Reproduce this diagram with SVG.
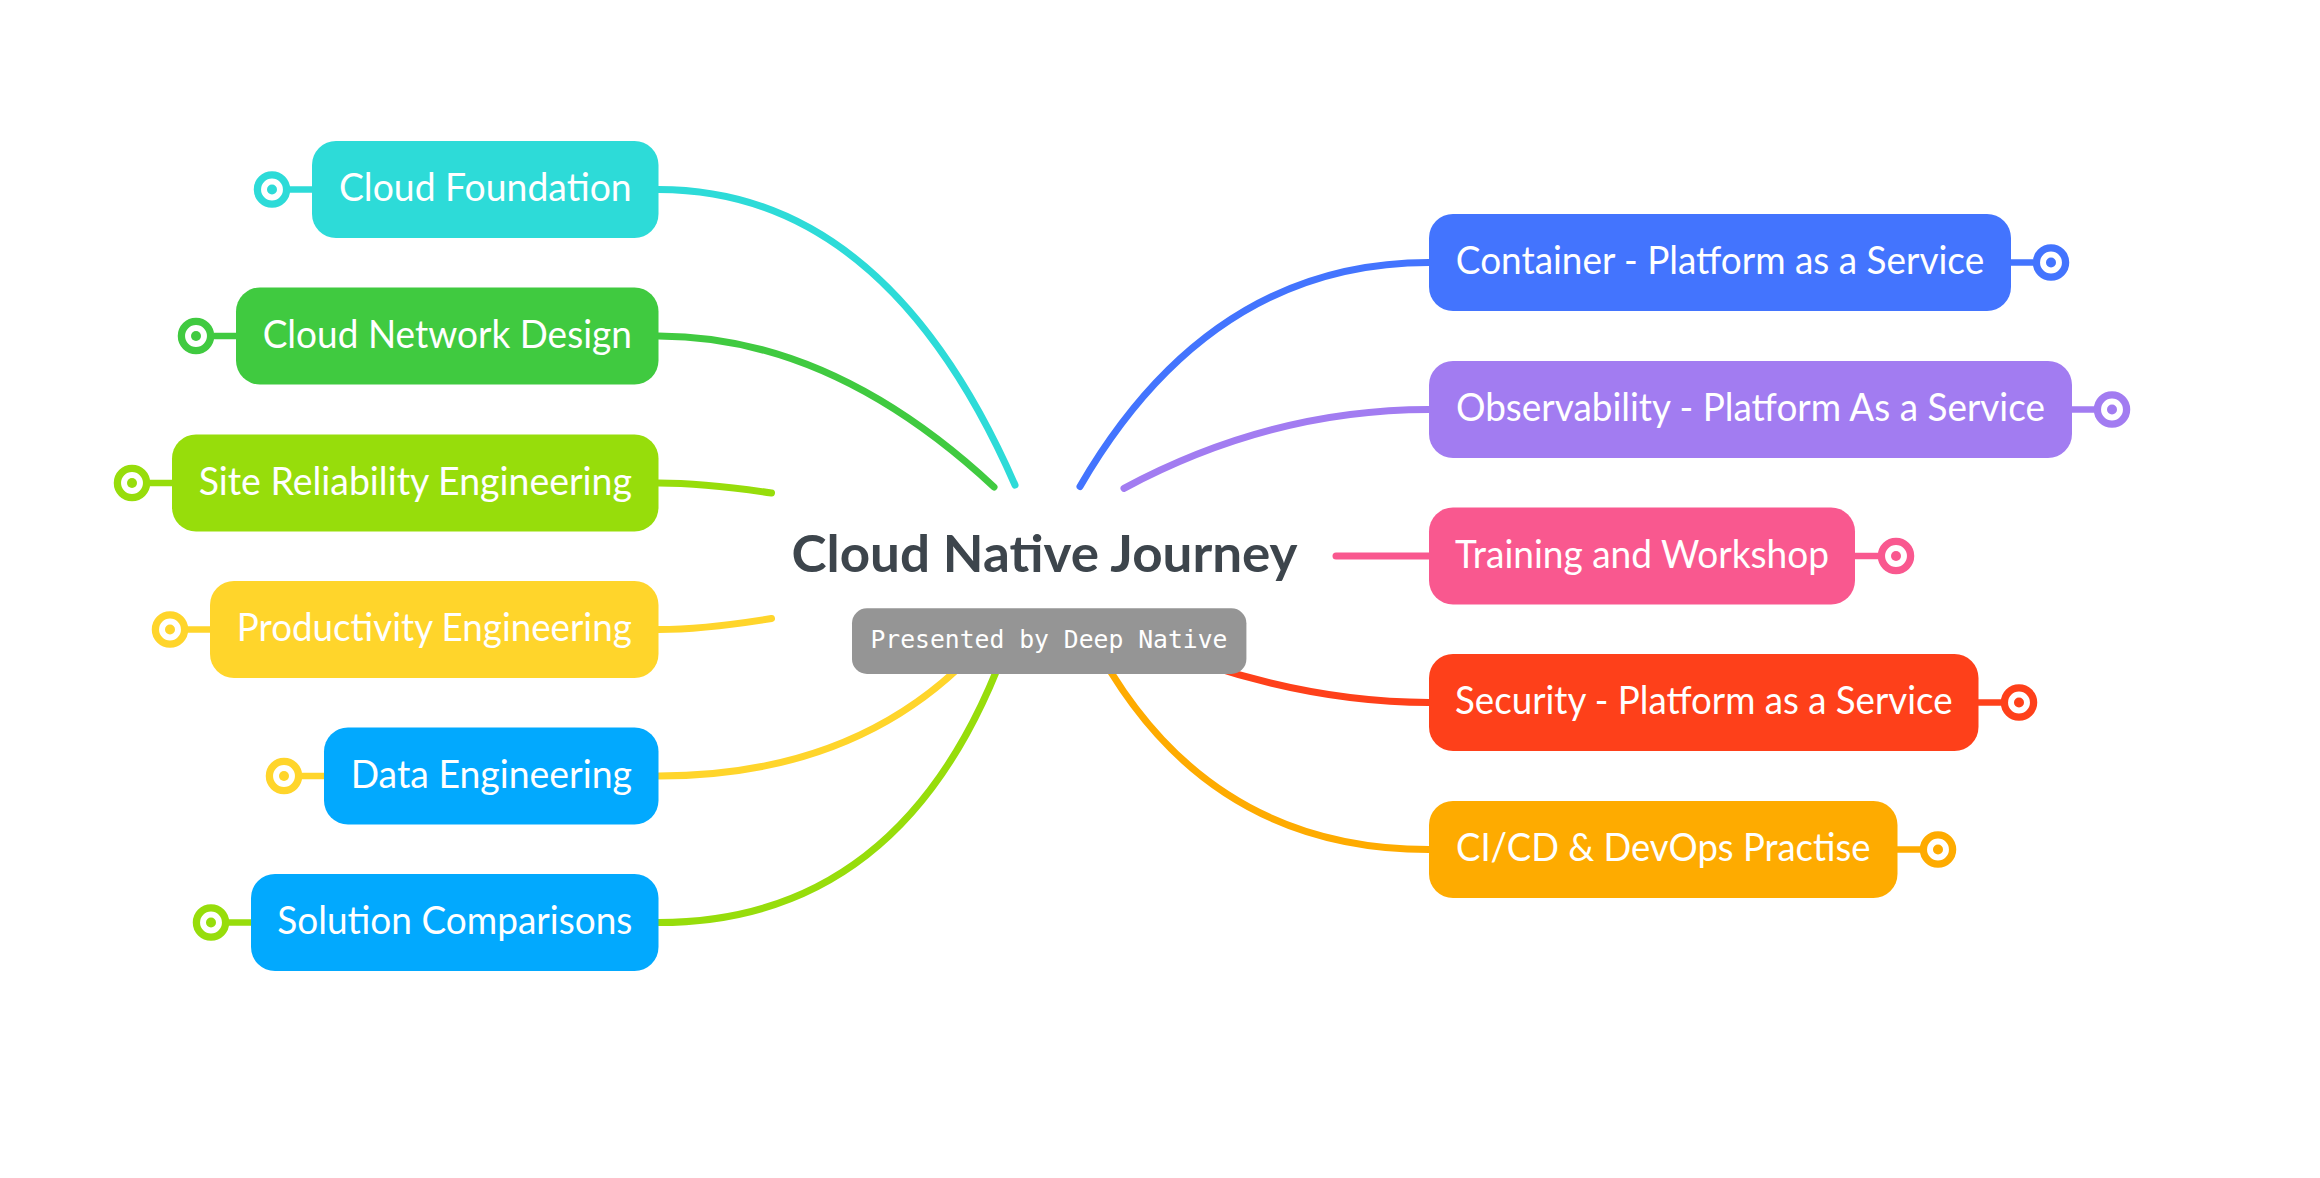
<svg xmlns="http://www.w3.org/2000/svg" width="2320" height="1178" viewBox="0 0 2320 1178">
<style>
.bg{fill:#ffffff}
.conn path{fill:none;stroke-width:7;stroke-linecap:round}
.box{rx:24;ry:24}
.lbl{font-family:Lato,"Noto Sans","Liberation Sans",sans-serif;font-size:38px;fill:#ffffff;text-anchor:middle}
.ring{fill:#ffffff;stroke-width:7.3}
.stub{stroke-width:6.5;fill:none}
.title{font-family:Lato,"Noto Sans","Liberation Sans",sans-serif;font-weight:bold;font-size:52px;fill:#3d454c;text-anchor:middle}
.sub{font-family:"DejaVu Sans Mono","Liberation Mono",monospace;font-size:25px;fill:#ffffff;text-anchor:middle}
</style>
<rect class="bg" x="0" y="0" width="2320" height="1178"/>
<g id="connectors" class="conn">
<path d="M1015,485 Q885.6,189.5 658.5,189.5" stroke="#2ddbd8"/>
<path d="M994,487 Q832,336 658.5,336" stroke="#40ca40"/>
<path d="M771.5,493 Q703,483 658.5,483" stroke="#97dd0b"/>
<path d="M771.5,618.5 Q703,629.5 658.5,629.5" stroke="#ffd52b"/>
<path d="M990,635 Q870,776 658.5,776" stroke="#ffd52b"/>
<path d="M1010,635 Q910,922.5 658.5,922.5" stroke="#97dd0b"/>
<path d="M1080,486.5 Q1210,262.5 1429,262.5" stroke="#4374fe"/>
<path d="M1124,488.3 Q1271,409.5 1429,409.5" stroke="#a27cf1"/>
<path d="M1336,556 L1429,556" stroke="#f9588f"/>
<path d="M1140,640 Q1290,702.5 1429,702.5" stroke="#fe401a"/>
<path d="M1090,635 Q1200,849.5 1429,849.5" stroke="#feab00"/>
</g>
<g id="center">
<text class="title" x="1044.5" y="571.5" textLength="506" lengthAdjust="spacingAndGlyphs">Cloud Native Journey</text>
<rect x="852" y="608.3" width="394.4" height="65.7" rx="15" ry="15" fill="#959595"/>
<text class="sub" x="1049" y="648.3" textLength="357" lengthAdjust="spacingAndGlyphs">Presented by Deep Native</text>
</g>
<g id="n-cloud-foundation">
<line class="stub" x1="290" y1="189.5" x2="313" y2="189.5" stroke="#2ddbd8"/>
<circle class="ring" cx="272" cy="189.5" r="14.6" stroke="#2ddbd8"/>
<circle cx="272" cy="189.5" r="5" fill="#2ddbd8"/>
<rect class="box" x="312" y="141" width="346.5" height="97" fill="#2ddbd8"/>
<text class="lbl" x="485.3" y="201" textLength="292.7" lengthAdjust="spacingAndGlyphs">Cloud Foundation</text>
</g>
<g id="n-cloud-network-design">
<line class="stub" x1="214" y1="336" x2="237" y2="336" stroke="#40ca40"/>
<circle class="ring" cx="196" cy="336" r="14.6" stroke="#40ca40"/>
<circle cx="196" cy="336" r="5" fill="#40ca40"/>
<rect class="box" x="236" y="287.5" width="422.5" height="97" fill="#40ca40"/>
<text class="lbl" x="447.3" y="347.5" textLength="369.3" lengthAdjust="spacingAndGlyphs">Cloud Network Design</text>
</g>
<g id="n-site-reliability">
<line class="stub" x1="150" y1="483" x2="173" y2="483" stroke="#97dd0b"/>
<circle class="ring" cx="132" cy="483" r="14.6" stroke="#97dd0b"/>
<circle cx="132" cy="483" r="5" fill="#97dd0b"/>
<rect class="box" x="172" y="434.5" width="486.5" height="97" fill="#97dd0b"/>
<text class="lbl" x="415.3" y="494.5" textLength="433.3" lengthAdjust="spacingAndGlyphs">Site Reliability Engineering</text>
</g>
<g id="n-productivity">
<line class="stub" x1="188" y1="629.5" x2="211" y2="629.5" stroke="#ffd52b"/>
<circle class="ring" cx="170" cy="629.5" r="14.6" stroke="#ffd52b"/>
<circle cx="170" cy="629.5" r="5" fill="#ffd52b"/>
<rect class="box" x="210" y="581" width="448.5" height="97" fill="#ffd52b"/>
<text class="lbl" x="434.3" y="641" textLength="395" lengthAdjust="spacingAndGlyphs">Productivity Engineering</text>
</g>
<g id="n-data-engineering">
<line class="stub" x1="302" y1="776" x2="325" y2="776" stroke="#ffd52b"/>
<circle class="ring" cx="284" cy="776" r="14.6" stroke="#ffd52b"/>
<circle cx="284" cy="776" r="5" fill="#ffd52b"/>
<rect class="box" x="324" y="727.5" width="334.5" height="97" fill="#02a9fe"/>
<text class="lbl" x="491.3" y="787.5" textLength="281.3" lengthAdjust="spacingAndGlyphs">Data Engineering</text>
</g>
<g id="n-solution-comparisons">
<line class="stub" x1="229" y1="922.5" x2="252" y2="922.5" stroke="#97dd0b"/>
<circle class="ring" cx="211" cy="922.5" r="14.6" stroke="#97dd0b"/>
<circle cx="211" cy="922.5" r="5" fill="#97dd0b"/>
<rect class="box" x="251" y="874" width="407.5" height="97" fill="#02a9fe"/>
<text class="lbl" x="454.8" y="934" textLength="355.2" lengthAdjust="spacingAndGlyphs">Solution Comparisons</text>
</g>
<g id="n-container">
<line class="stub" x1="2010" y1="262.5" x2="2033" y2="262.5" stroke="#4374fe"/>
<circle class="ring" cx="2051" cy="262.5" r="14.6" stroke="#4374fe"/>
<circle cx="2051" cy="262.5" r="5" fill="#4374fe"/>
<rect class="box" x="1429" y="214" width="582" height="97" fill="#4374fe"/>
<text class="lbl" x="1720" y="274" textLength="528.3" lengthAdjust="spacingAndGlyphs">Container - Platform as a Service</text>
</g>
<g id="n-observability">
<line class="stub" x1="2071" y1="409.5" x2="2094" y2="409.5" stroke="#a27cf1"/>
<circle class="ring" cx="2112" cy="409.5" r="14.6" stroke="#a27cf1"/>
<circle cx="2112" cy="409.5" r="5" fill="#a27cf1"/>
<rect class="box" x="1429" y="361" width="643" height="97" fill="#a27cf1"/>
<text class="lbl" x="1750.5" y="421" textLength="589" lengthAdjust="spacingAndGlyphs">Observability - Platform As a Service</text>
</g>
<g id="n-training">
<line class="stub" x1="1854" y1="556" x2="1878" y2="556" stroke="#f9588f"/>
<circle class="ring" cx="1896" cy="556" r="14.6" stroke="#f9588f"/>
<circle cx="1896" cy="556" r="5" fill="#f9588f"/>
<rect class="box" x="1429" y="507.5" width="426" height="97" fill="#f9588f"/>
<text class="lbl" x="1642" y="567.5" textLength="374" lengthAdjust="spacingAndGlyphs">Training and Workshop</text>
</g>
<g id="n-security">
<line class="stub" x1="1977" y1="702.5" x2="2001" y2="702.5" stroke="#fe401a"/>
<circle class="ring" cx="2019" cy="702.5" r="14.6" stroke="#fe401a"/>
<circle cx="2019" cy="702.5" r="5" fill="#fe401a"/>
<rect class="box" x="1429" y="654" width="549.5" height="97" fill="#fe401a"/>
<text class="lbl" x="1703.8" y="714" textLength="497.5" lengthAdjust="spacingAndGlyphs">Security - Platform as a Service</text>
</g>
<g id="n-cicd">
<line class="stub" x1="1897" y1="849.5" x2="1920" y2="849.5" stroke="#feab00"/>
<circle class="ring" cx="1938" cy="849.5" r="14.6" stroke="#feab00"/>
<circle cx="1938" cy="849.5" r="5" fill="#feab00"/>
<rect class="box" x="1429" y="801" width="468.5" height="97" fill="#feab00"/>
<text class="lbl" x="1663.3" y="861" textLength="414.5" lengthAdjust="spacingAndGlyphs">CI/CD &amp; DevOps Practise</text>
</g>
</svg>
